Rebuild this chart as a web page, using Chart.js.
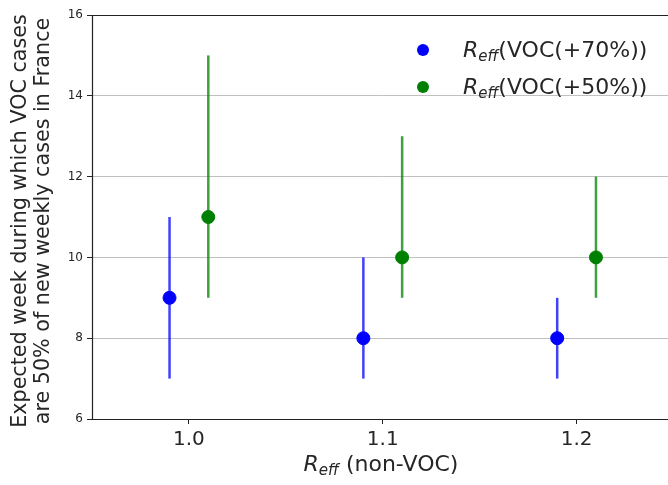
<!DOCTYPE html>
<html>
<head>
<meta charset="utf-8">
<script src="https://cdn.jsdelivr.net/npm/chart.js@4/dist/chart.umd.min.js"></script>
<style>
  html, body { margin: 0; padding: 0; background: #fff; overflow: hidden; }
  #wrap { width: 681px; height: 485px; }
</style>
</head>
<body>
<div id="wrap"><canvas id="voc"></canvas></div>
<script>
// data
const reffNonVoc = [1.0, 1.1, 1.2];
const offset70 = -0.01, offset50 = 0.01;
const week70 = [9, 8, 8];
const low70 = [7, 7, 7];
const high70 = [11, 10, 9];
const week50 = [11, 10, 10];
const low50 = [9, 9, 9];
const high50 = [15, 13, 12];
const yTicks = [6, 8, 10, 12, 14, 16];
const xTicks = [1.0, 1.1, 1.2];

const blue = '#0000ff', green = '#008000';
const font = 'DejaVu Sans';

const pts = (xs, ys, off) => xs.map((x, i) => ({ x: x + off, y: ys[i] }));

// vertical error bars drawn under the markers
const errorBars = {
  id: 'errorBars',
  beforeDatasetsDraw(chart) {
    const { ctx, scales: { x, y } } = chart
    const sets = [[offset70, low70, high70, 'rgba(0,0,255,0.75)'], [offset50, low50, high50, 'rgba(0,128,0,0.75)']]
    ctx.save()
    ctx.lineWidth = 2.5
    sets.forEach(([off, lo, hi, col]) => {
      ctx.strokeStyle = col
      reffNonVoc.forEach((r, i) => {
        const px = x.getPixelForValue(r + off)
        ctx.beginPath()
        ctx.moveTo(px, y.getPixelForValue(lo[i]))
        ctx.lineTo(px, y.getPixelForValue(hi[i]))
        ctx.stroke()
      })
    })
    ctx.restore()
  }
}

// R_eff text with italic subscript
function drawReff(ctx, x, y, size, rest) {
  ctx.textBaseline = 'alphabetic'
  ctx.textAlign = 'left'
  ctx.font = `italic ${size}px "${font}"`
  ctx.fillText('R', x, y)
  let cx = x + ctx.measureText('R').width
  const sub = Math.round(size * 0.7)
  ctx.font = `italic ${sub}px "${font}"`
  ctx.fillText('eff', cx, y + size * 0.2)
  cx += ctx.measureText('eff').width
  ctx.font = `${size}px "${font}"`
  ctx.fillText(rest, cx, y)
  return cx + ctx.measureText(rest).width - x
}

const decorations = {
  id: 'decorations',
  afterDraw(chart) {
    const { ctx, chartArea: { top, bottom, left, right } } = chart
    ctx.save()
    // frame
    ctx.strokeStyle = '#222'
    ctx.lineWidth = 1.2
    ctx.beginPath()
    ctx.moveTo(right, top + 0.5)
    ctx.lineTo(left + 0.5, top + 0.5)
    ctx.lineTo(left + 0.5, bottom + 0.5)
    ctx.lineTo(right, bottom + 0.5)
    ctx.stroke()

    ctx.fillStyle = '#262626'
    // y title
    ctx.save()
    ctx.translate(21, (top + bottom) / 2 + 4)
    ctx.rotate(-Math.PI / 2)
    ctx.textAlign = 'center'
    ctx.textBaseline = 'middle'
    ctx.font = `20.7px "${font}"`
    ctx.fillText('Expected week during which VOC cases', 0, 0)
    ctx.fillText('are 50% of new weekly cases in France', 0, 23)
    ctx.restore()

    // x title
    const tmp = document.createElement('canvas').getContext('2d')
    const w = drawReff(tmp, 0, 0, 22, ' (non-VOC)')
    drawReff(ctx, 381 - w / 2, 471, 22, ' (non-VOC)')

    // legend
    const items = [['(VOC(+70%))', blue, 50], ['(VOC(+50%))', green, 87]]
    items.forEach(([t, c, ly]) => {
      ctx.fillStyle = c
      ctx.beginPath()
      ctx.arc(423, ly, 6, 0, 2 * Math.PI)
      ctx.fill()
      ctx.fillStyle = '#262626'
      drawReff(ctx, 463, ly + 7, 22, t)
    })
    ctx.restore()
  }
}

new Chart(document.getElementById('voc'), {
  type: 'scatter',
  data: {
    datasets: [
      { label: 'VOC(+70%)', data: pts(reffNonVoc, week70, offset70), backgroundColor: blue, borderColor: blue, pointRadius: 6.5 },
      { label: 'VOC(+50%)', data: pts(reffNonVoc, week50, offset50), backgroundColor: green, borderColor: green, pointRadius: 6.5 }
    ]
  },
  options: {
    responsive: true,
    maintainAspectRatio: false,
    animation: false,
    layout: { padding: { top: 15, right: 0, left: 0, bottom: 0 } },
    plugins: { legend: { display: false }, tooltip: { enabled: false } },
    scales: {
      x: {
        type: 'linear', min: 0.95, max: 1.25,
        afterFit: s => { s.height = 66 },
        afterBuildTicks: s => { s.ticks = xTicks.map(v => ({ value: v })) },
        grid: { drawOnChartArea: false, drawTicks: true, tickLength: 5, color: '#222' },
        border: { display: false },
        ticks: { font: { family: font, size: 20 }, color: '#262626', padding: 4, callback: v => v.toFixed(1) }
      },
      y: {
        min: 6, max: 16,
        afterFit: s => { s.width = 92 },
        afterBuildTicks: s => { s.ticks = yTicks.map(v => ({ value: v })) },
        grid: {
          color: c => (c.tick && (c.tick.value === 6 || c.tick.value === 16)) ? 'rgba(0,0,0,0)' : '#c0c0c0',
          tickColor: '#222', tickLength: 5, lineWidth: 1
        },
        border: { display: false },
        ticks: { font: { family: font, size: 12 }, color: '#262626', padding: 4 }
      }
    }
  },
  plugins: [errorBars, decorations]
});
</script>
</body>
</html>
